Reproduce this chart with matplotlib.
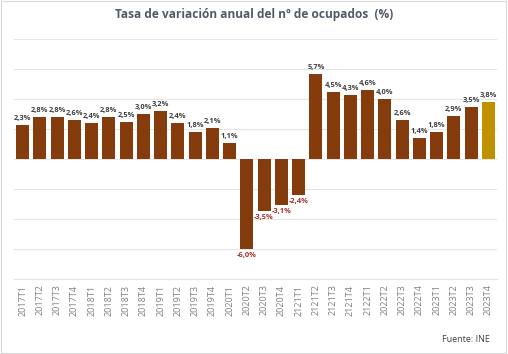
import matplotlib
matplotlib.use("Agg")
import matplotlib.pyplot as plt
from matplotlib.patches import Rectangle

categories = ["2017T1", "2017T2", "2017T3", "2017T4", "2018T1", "2018T2", "2018T3", "2018T4",
              "2019T1", "2019T2", "2019T3", "2019T4", "2020T1", "2020T2", "2020T3", "2020T4",
              "2121T1", "2121T2", "2121T3", "2121T4", "2122T1", "2022T2", "2022T3", "2022T4",
              "2023T1", "2023T2", "2023T3", "2023T4"]
values = [2.3, 2.8, 2.8, 2.6, 2.4, 2.8, 2.5, 3.0, 3.2, 2.4, 1.8, 2.1, 1.1,
          -6.0, -3.5, -3.1, -2.4, 5.7, 4.5, 4.3, 4.6, 4.0, 2.6, 1.4, 1.8, 2.9, 3.5, 3.8]
title = "Tasa de variación anual del nº de ocupados  (%)"
source = "Fuente: INE"

plt.rcParams['font.family'] = ['Open Sans', 'DejaVu Sans']

fig = plt.figure(figsize=(5.08, 3.54), dpi=100)
fig.patch.set_facecolor("white")
fig.add_artist(Rectangle((0.002, 0.003), 0.995, 0.994, transform=fig.transFigure,
                         fill=False, edgecolor="#d9d9d9", linewidth=0.8))

ax = fig.add_axes([0.0276, 0.2119, 0.9508, 0.6779])
colors = ["#843C0C"] * (len(values) - 1) + ["#BF9000"]
x = list(range(len(values)))
bars = ax.bar(x, values, width=0.75, color=colors, zorder=3)

ax.set_xlim(-0.5, len(values) - 0.5)
ax.set_ylim(-8, 8)
ax.set_yticks(range(-8, 9, 2))
ax.yaxis.grid(True, color="#e6e6e6", linewidth=0.8, zorder=0)
ax.tick_params(axis="y", left=False, labelleft=False)
ax.set_xticks(x)
ax.set_xticklabels(categories, rotation=90, fontsize=6.5, color="#7f7f7f")
ax.tick_params(axis="x", length=0, pad=4)
for s in ["top", "right", "left"]:
    ax.spines[s].set_visible(False)
ax.spines["bottom"].set_color("#e6e6e6")
ax.spines["bottom"].set_linewidth(0.8)

for xi, v in zip(x, values):
    lbl = f"{v:.1f}%".replace(".", ",")
    if v >= 0:
        ax.annotate(lbl, (xi, v), xytext=(0, 2), textcoords="offset points",
                    ha="center", va="bottom", fontsize=5.4, fontweight="bold",
                    color="#404040")
    else:
        ax.annotate(lbl, (xi, v), xytext=(0, -2), textcoords="offset points",
                    ha="center", va="top", fontsize=5.4, fontweight="bold",
                    color="#A5312E")

fig.text(0.5, 0.958, title, ha="center", va="center", fontsize=8.6, fontweight="bold",
         color="#505a66")
fig.text(0.965, 0.042, source, ha="right", va="center", fontsize=6.5, color="#404040")

fig.savefig("out.png", dpi=100, facecolor="white")
